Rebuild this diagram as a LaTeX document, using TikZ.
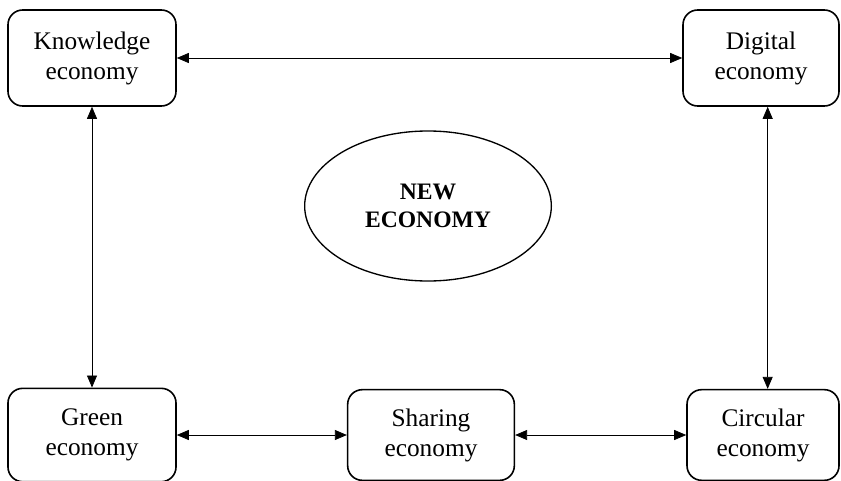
\documentclass[tikz,border=0pt]{standalone}
\usepackage{fontspec}
\setmainfont{Liberation Serif}
\usetikzlibrary{arrows.meta,shapes.geometric}

\begin{document}
\begin{tikzpicture}[x=0.75pt,y=-0.75pt,
  eco/.style={draw,line width=1.2pt,rounded corners=11pt,align=center,inner sep=0pt,font=\fontsize{19}{22.5}\selectfont},
  link/.style={line width=0.6pt,{Triangle[length=9pt,width=7.5pt]}-{Triangle[length=9pt,width=7.5pt]}}]

\useasboundingbox (0,0) rectangle (841,481);

% outer boxes
\node[eco,minimum width=126pt,minimum height=72pt] (know) at (92,58) {Knowledge\\economy};
\node[eco,minimum width=117pt,minimum height=72pt] (digi) at (761,58) {Digital\\economy};
\node[eco,minimum width=126pt,minimum height=70pt] (green) at (92,435) {Green\\economy};
\node[eco,minimum width=125pt,minimum height=68pt] (share) at (431,435) {Sharing\\economy};
\node[eco,minimum width=114pt,minimum height=68pt] (circ) at (763,435) {Circular\\economy};

% centre
\node[ellipse,draw,line width=1pt,minimum width=185pt,minimum height=112.5pt,inner sep=0pt,align=center,
  font=\bfseries\fontsize{17.7}{21}\selectfont] (neweco) at (428,206) {NEW\\ECONOMY};

\draw[link] (know) -- (digi);
\draw[link] (know) -- (green);
\draw[link] ([xshift=5pt]digi.south) -- ([xshift=5pt]digi.south |- circ.north);
\draw[link] (green) -- (share);
\draw[link] (share) -- (circ);

\end{tikzpicture}
\end{document}
